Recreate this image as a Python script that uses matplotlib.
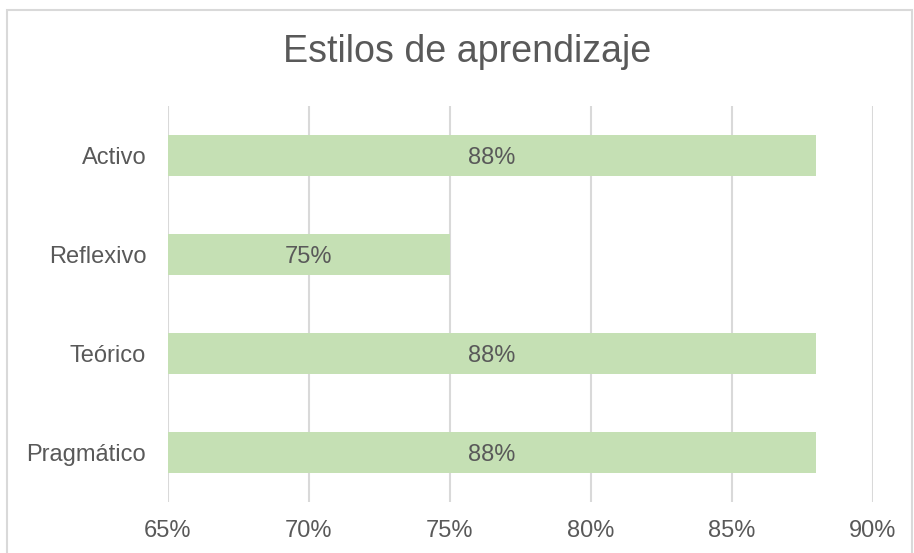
import matplotlib
matplotlib.use("Agg")
import matplotlib.pyplot as plt
from matplotlib.patches import Rectangle
from matplotlib.ticker import FuncFormatter

categories = ["Activo", "Reflexivo", "Teórico", "Pragmático"]
values = [88, 75, 88, 88]
ticks = [65, 70, 75, 80, 85, 90]

plt.rcParams["font.family"] = ["Liberation Sans", "DejaVu Sans"]
text_color = "#595959"
bar_color = "#C5E0B4"
grid_color = "#D9D9D9"

W, H = 914, 553
fig = plt.figure(figsize=(W / 100, H / 100), dpi=100)

# outer chart border
fig.patches.append(Rectangle((7 / W, -0.05), (912 - 7) / W, 1 - 10 / H + 0.05,
                             transform=fig.transFigure, fill=False,
                             edgecolor=grid_color, linewidth=1.5))

ax = fig.add_axes([167.7 / W, 1 - 502 / H, (872.7 - 167.7) / W, (502 - 106) / H])

y = list(range(len(categories)))
bars = ax.barh(y, [v - 65 for v in values], left=65, height=0.405, color=bar_color, zorder=2)
for b, v in zip(bars, values):
    ax.text(b.get_x() + b.get_width() / 2, b.get_y() + b.get_height() / 2 + 0.03, f"{v}%",
            ha="center", va="center", fontsize=17, color=text_color, zorder=3)

ax.set_xlim(65, 90)
ax.set_ylim(len(categories) - 0.5, -0.5)
ax.set_xticks(ticks)
ax.xaxis.set_major_formatter(FuncFormatter(lambda v, p: f"{v:.0f}%"))
ax.set_yticks(y)
ax.set_yticklabels(categories)
ax.tick_params(axis="both", length=0, labelsize=17, labelcolor=text_color)
ax.tick_params(axis="x", pad=13)
ax.tick_params(axis="y", pad=15.5)
ax.grid(axis="x", color=grid_color, linewidth=1.5, zorder=0)
for s in ax.spines.values():
    s.set_visible(False)

fig.text(467 / W, 1 - 52 / H, "Estilos de aprendizaje", ha="center", va="center",
         fontsize=27.1, color=text_color)

fig.savefig("out.png", dpi=100)
